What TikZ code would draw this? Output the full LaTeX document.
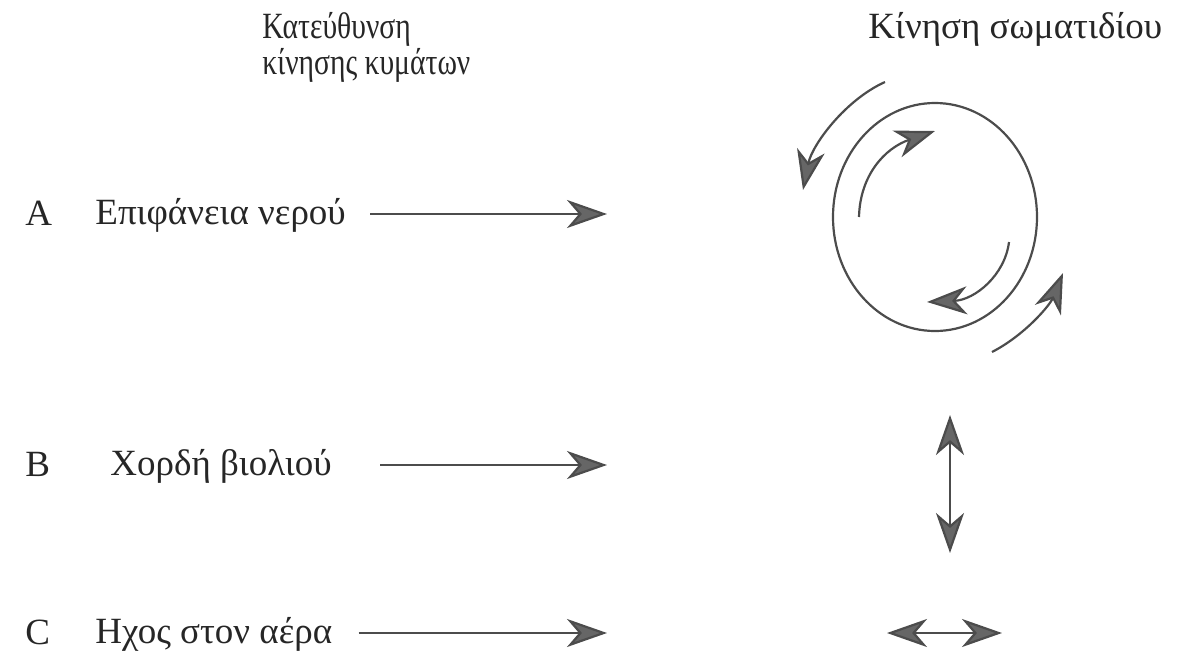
\documentclass[tikz,border=0pt]{standalone}
\usepackage{fontspec}
\setmainfont{Liberation Serif}
\newfontfamily\narrowserif[FakeStretch=0.8]{Liberation Serif}
\usetikzlibrary{arrows.meta}

\begin{document}
\begin{tikzpicture}[x=0.5pt,y=-0.5pt,
  every node/.style={font=\fontsize{18.5}{16.5}\selectfont, inner sep=0pt, text=black!85},
  tip/.tip={Stealth[length=20pt,width=14pt,inset=6pt,fill=black!60]},
  wave/.style={draw=black!70, line width=1.1pt, -tip},
  swing/.style={draw=black!70, line width=1.1pt, tip-tip},
  rowtext/.style={anchor=west, text height=14pt, text depth=4pt},
  letter/.style={anchor=base west}]
  \useasboundingbox (0,0) rectangle (1179,654);
  % headings
  \node[anchor=north west, align=left, font=\narrowserif\fontsize{18.5}{16.5}\selectfont] (hdir) at (262,12) {Κατεύθυνση\\κίνησης κυμάτων};
  \node[anchor=north west] (hpart) at (868,12) {Κίνηση σωματιδίου};
  % rows
  \node[letter] (ltA) at (25,225) {A};
  \node[rowtext] (wA) at (95,214) {Επιφάνεια νερού};
  \coordinate (endA) at (607,214);
  \draw[wave, shorten <=12pt] (wA) -- (endA);
  \node[letter] (ltB) at (25,476) {B};
  \node[rowtext] (wB) at (110,465) {Χορδή βιολιού};
  \coordinate (endB) at (607,465);
  \draw[wave, shorten <=24pt] (wB) -- (endB);
  \node[letter] (ltC) at (25,644) {C};
  \node[rowtext] (wC) at (95,633) {Ηχος στον αέρα};
  \coordinate (endC) at (607,633);
  \draw[wave, shorten <=13pt] (wC) -- (endC);
  % water particle
  \draw[draw=black!70, line width=1.1pt] (935,217) ellipse [x radius=51pt, y radius=57pt];
  \draw[wave] (885,82) .. controls (845,100) and (812,145) .. (803,190);
  \draw[wave] (859,217) .. controls (860,175) and (885,148) .. (935,131);
  \draw[wave] (1009,242) .. controls (1005,275) and (975,300) .. (927,302);
  \draw[wave] (992,352) .. controls (1025,335) and (1050,305) .. (1063,273);
  % string and air
  \coordinate (upB) at (950,415);
  \coordinate (dnB) at (950,553);
  \draw[swing] (upB) -- (dnB);
  \coordinate (lfC) at (887,633);
  \coordinate (rtC) at (1002,633);
  \draw[swing] (lfC) -- (rtC);
\end{tikzpicture}
\end{document}
